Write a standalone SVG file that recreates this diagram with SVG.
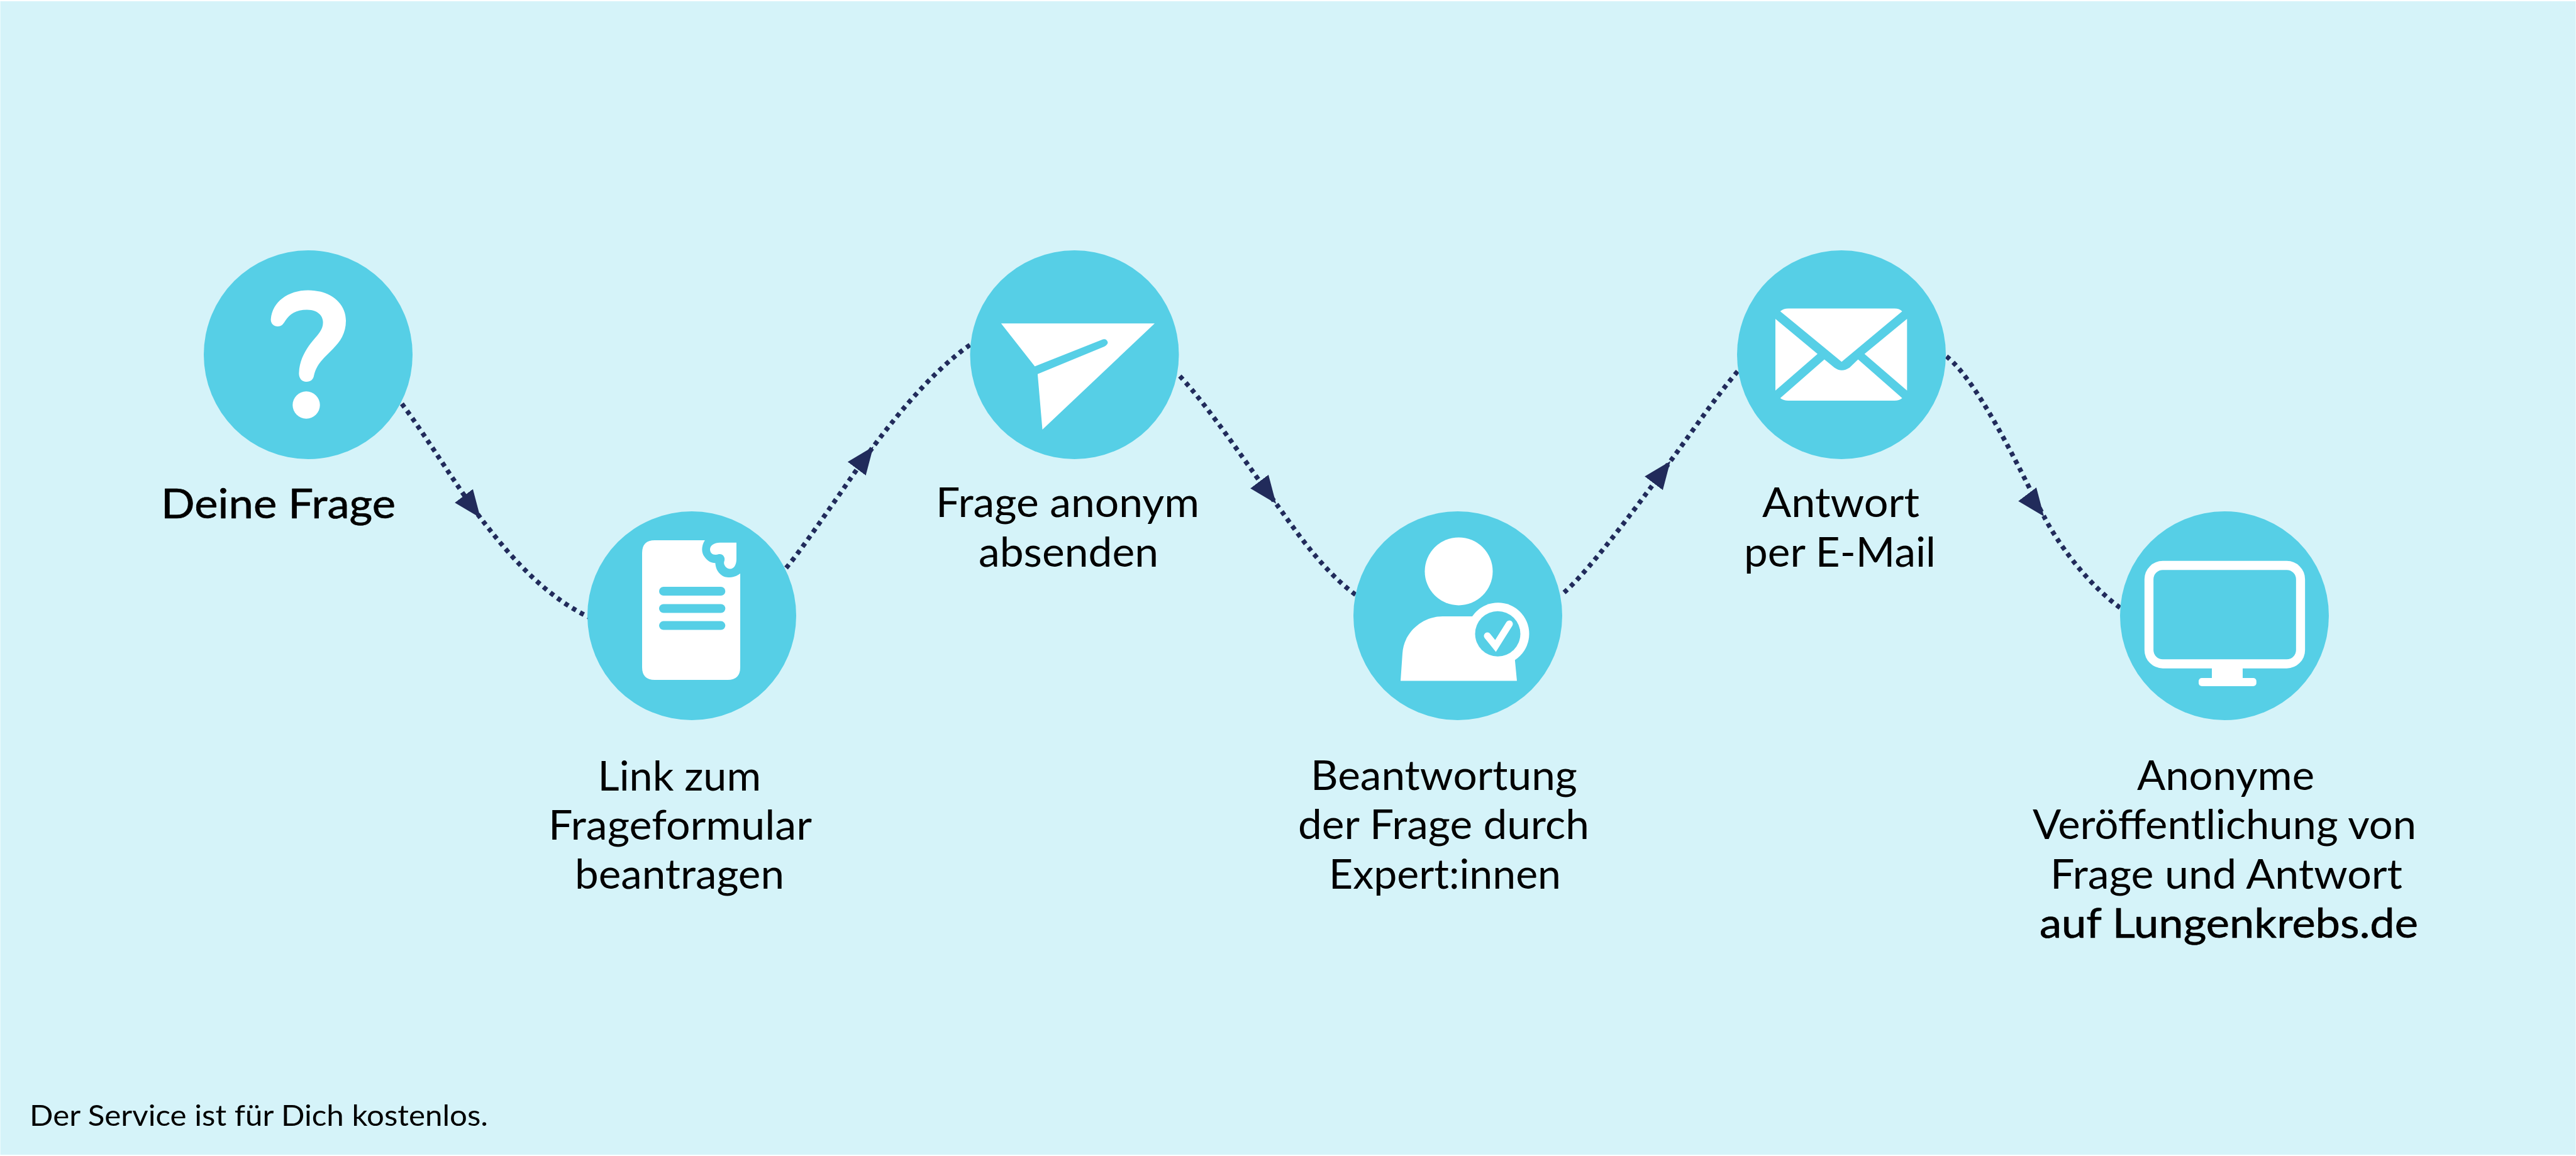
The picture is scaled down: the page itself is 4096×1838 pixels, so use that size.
<svg xmlns="http://www.w3.org/2000/svg" width="4096" height="1838" viewBox="0 0 4096 1838">
<style>
.bg{fill:#d5f3f9}
.disc{fill:#56cfe6}
.ico{fill:#fff}
.cut{fill:#56cfe6}
.conn{fill:none;stroke:#212b5b;stroke-width:7.5;stroke-dasharray:7 7.2}
.dn{marker-mid:url(#headDown)}
.up{marker-mid:url(#headUp)}
text{font-family:"Lato","Noto Sans",sans-serif;font-size:66px;fill:#000}
.md{stroke:#000;stroke-width:.7;stroke-linejoin:round}
.foot{font-size:47px}
</style>
<defs>
<marker id="headDown" markerUnits="userSpaceOnUse" markerWidth="50" markerHeight="40" refX="44" refY="18" orient="53"><path d="M0 0L44 18L0 36Z" fill="#212b5b"/></marker>
<marker id="headUp" markerUnits="userSpaceOnUse" markerWidth="50" markerHeight="40" refX="44" refY="18" orient="-53"><path d="M0 0L44 18L0 36Z" fill="#212b5b"/></marker>
</defs>
<rect width="4096" height="1838" fill="#fff"/>
<rect class="bg" x="0.5" y="2" width="4095" height="1834"/>
<g id="connectors">
<path class="conn dn" d="M639 642C680 697 725 772 764 823.5C803 874 860 945 938 982"/>
<path class="conn up" d="M1250 903C1280 868 1349.7 762.5 1388.7 710C1415 675 1480 590 1546 546"/>
<path class="conn dn" d="M1876 598C1925 650 1989 748 2029 800.7C2055 836 2100 905 2156 946"/>
<path class="conn up" d="M2487 942C2530 905 2617.5 784.8 2656 733.3C2681.7 699 2730 628 2765 588"/>
<path class="conn dn" d="M3095 566.6C3150 610 3225 775 3250 821C3270 860 3315 925 3372 967"/>
</g>
<g id="node-frage">
<circle class="disc" cx="490" cy="564" r="166"/>
<path class="ico" d="M430.7 507C433 480 458 461.4 490 461.4C525 461.4 550 482 550 510C550 530 541 543 529.6 554.5C512 572 503 580 499 598C498 603 494 607 487 607C480 607 475 601 475.4 593C476 575 483 562 491 550C503 534 513.6 526 513.6 513C513.6 500 503 492.5 488 492.5C470 492.5 460 500 453 511C450 516 447 519 441.6 519C435 519 430 514 430.7 507Z"/>
<circle class="ico" cx="487" cy="644" r="21.7"/>
<text class="md" x="256" y="823.5" textLength="373" lengthAdjust="spacingAndGlyphs">Deine Frage</text>
</g>
<g id="node-link">
<circle class="disc" cx="1100" cy="979" r="166"/>
<path class="ico" d="M1041 859H1120.8C1114 870 1116 880 1120 885C1125 892 1130 895 1137.4 895.3C1138 908 1147 918 1158 918C1165 918 1172 916 1177 911.7V1061Q1177 1081 1157 1081H1041Q1021 1081 1021 1061V879Q1021 859 1041 859Z"/>
<path class="ico" d="M1145 862.8H1171V889C1171 898 1167 904.5 1161 904.5C1155 904.5 1150 898 1151.4 893C1154 887 1150 880 1143 881C1135 884 1129 880 1129 873.5C1129 867 1136 862.8 1145 862.8Z"/>
<rect class="cut" x="1048" y="933" width="105.3" height="14" rx="7"/>
<rect class="cut" x="1048" y="960.5" width="105.3" height="14" rx="7"/>
<rect class="cut" x="1048" y="987.6" width="105.3" height="14" rx="7"/>
<text x="950.6" y="1257" textLength="259.4" lengthAdjust="spacingAndGlyphs">Link zum</text>
<text x="872" y="1335" textLength="419" lengthAdjust="spacingAndGlyphs">Frageformular</text>
<text x="914" y="1413" textLength="333" lengthAdjust="spacingAndGlyphs">beantragen</text>
</g>
<g id="node-absenden">
<circle class="disc" cx="1708.5" cy="564" r="166"/>
<path class="ico" d="M1591.8 514.3H1836L1657.5 683L1649.9 594.7L1756 551Q1763 547 1761 543Q1759 538 1753.8 539.5L1645.4 582.6Z"/>
<text x="1488" y="822" textLength="419" lengthAdjust="spacingAndGlyphs">Frage anonym</text>
<text x="1556" y="901" textLength="286" lengthAdjust="spacingAndGlyphs">absenden</text>
</g>
<g id="node-beantwortung">
<circle class="disc" cx="2318" cy="979" r="166"/>
<circle class="ico" cx="2319.5" cy="908.4" r="54"/>
<path class="ico" d="M2227 1082.4L2230 1039C2232 1005 2262 980 2294 980H2382V1049H2408.8L2412 1082.4Z"/>
<circle class="ico" cx="2382" cy="1007.7" r="49.5"/>
<circle class="cut" cx="2381.5" cy="1007.7" r="36"/>
<path d="M2365 1011L2378 1027L2400 992" fill="none" stroke="#fff" stroke-width="11" stroke-linecap="round"/>
<text x="2084" y="1256" textLength="424" lengthAdjust="spacingAndGlyphs">Beantwortung</text>
<text x="2064" y="1334" textLength="463" lengthAdjust="spacingAndGlyphs">der Frage durch</text>
<text x="2113" y="1413" textLength="369" lengthAdjust="spacingAndGlyphs">Expert:innen</text>
</g>
<g id="node-antwort">
<circle class="disc" cx="2928" cy="564" r="166"/>
<path class="ico" d="M2830.7 494.9Q2836 490.5 2843.5 490.5H3012.5Q3020 490.5 3024.6 494.9L2928.3 575.3Z"/>
<path class="ico" d="M2823 507L2890 562.7L2823 620.9Z"/>
<path class="ico" d="M3032.3 507L2964.7 562.7L3032.3 620.9Z"/>
<path class="ico" d="M2830.7 633L2900.9 571.5L2916.8 584.6Q2928.3 593 2941 584.6L2954.5 571.5L3024.6 633Q3020 637 3012.5 637H2843.5Q2836 637 2830.7 633Z"/>
<text x="2802" y="822" textLength="250" lengthAdjust="spacingAndGlyphs">Antwort</text>
<text x="2773" y="901" textLength="305" lengthAdjust="spacingAndGlyphs">per E-Mail</text>
</g>
<g id="node-veroeffentlichung">
<circle class="disc" cx="3537" cy="979" r="166"/>
<rect x="3417" y="899" width="241" height="156.5" rx="22" fill="none" stroke="#fff" stroke-width="14.3"/>
<rect class="ico" x="3517" y="1060" width="49" height="20"/>
<rect class="ico" x="3496" y="1078" width="91.8" height="13" rx="5"/>
<text x="3398" y="1256" textLength="282" lengthAdjust="spacingAndGlyphs">Anonyme</text>
<text x="3232" y="1334" textLength="610" lengthAdjust="spacingAndGlyphs">Veröffentlichung von</text>
<text x="3260" y="1413" textLength="560" lengthAdjust="spacingAndGlyphs">Frage und Antwort</text>
<text class="md" x="3243" y="1491" textLength="602" lengthAdjust="spacingAndGlyphs">auf Lungenkrebs.de</text>
</g>
<text class="foot" x="47" y="1790" textLength="729" lengthAdjust="spacingAndGlyphs">Der Service ist für Dich kostenlos.</text>
</svg>
